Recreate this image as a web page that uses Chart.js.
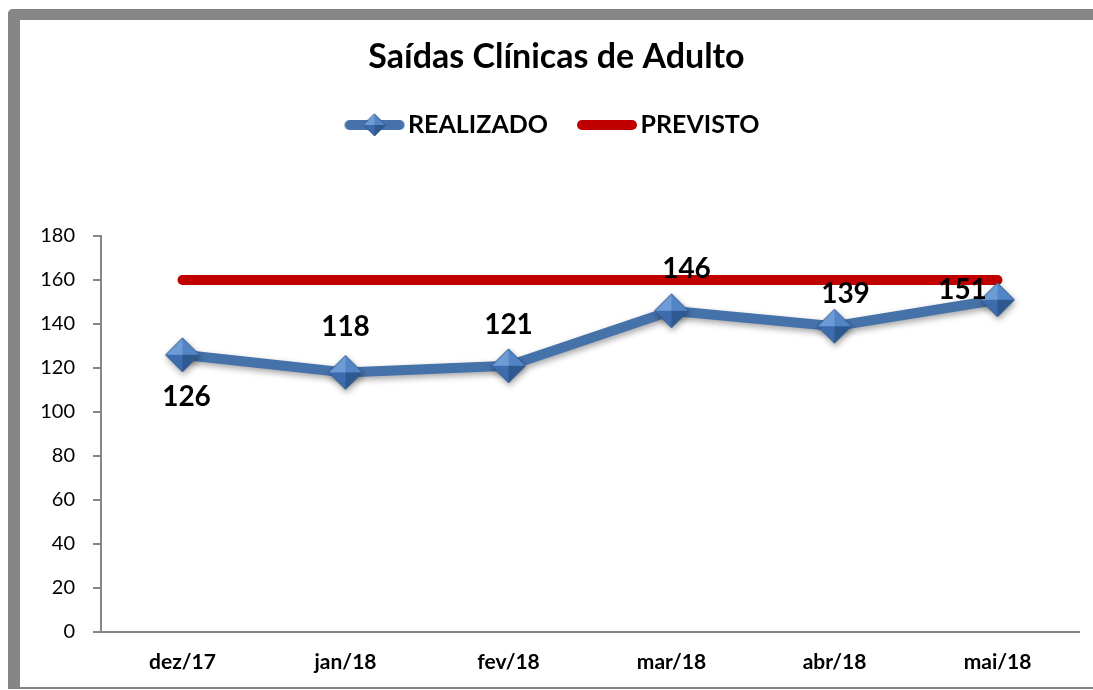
<!DOCTYPE html>
<html lang="pt">
<head>
<meta charset="utf-8">
<title>Saídas Clínicas de Adulto</title>
<script src="https://cdn.jsdelivr.net/npm/chart.js@4.4.1/dist/chart.umd.min.js"></script>
<style>
  html, body { margin: 0; padding: 0; background: #fff; overflow: hidden; }
  #wrap { position: relative; width: 1093px; height: 690px; overflow: hidden; }
  #chart { position: absolute; left: 0; top: 0; }
  /* grey frame like the spreadsheet picture */
  #frame {
    position: absolute; left: 8px; top: 9px; width: 1200px; height: 680px; box-sizing: border-box;
    border-left: 12px solid #868686; border-top: 11px solid #868686; border-bottom: 2px solid #868686;
    border-top-left-radius: 5px; pointer-events: none;
  }
</style>
</head>
<body>
<div id="wrap">
  <canvas id="chart" width="1113" height="690"></canvas>
  <div id="frame"></div>
</div>
<script>
// ---- data ----
const months = ['dez/17', 'jan/18', 'fev/18', 'mar/18', 'abr/18', 'mai/18'];
const realizado = [126, 118, 121, 146, 139, 151];
const previsto = [160, 160, 160, 160, 160, 160];
const yTicks = [0, 20, 40, 60, 80, 100, 120, 140, 160, 180];

// label nudges (px) for the REALIZADO values, as placed in the original
const labelOffsets = [[4, 42], [0, -45], [0, -41], [15, -42], [11, -32], [-35, -10]];

const colors = { blue: '#4672aa', red: '#c00000', axis: '#868686' };

Chart.defaults.font.family = "Lato, 'Open Sans', sans-serif";
Chart.defaults.color = '#000';

function drawDiamond(g, cx, cy, h) {
  const facets = [
    [[cx, cy - h], [cx - h, cy], '#6c9bd6'],
    [[cx, cy - h], [cx + h, cy], '#5185c6'],
    [[cx - h, cy], [cx, cy + h], '#3c6cad'],
    [[cx + h, cy], [cx, cy + h], '#2d5990'],
  ];
  facets.forEach(([a, b, c]) => {
    g.beginPath(); g.moveTo(a[0], a[1]); g.lineTo(b[0], b[1]); g.lineTo(cx, cy); g.closePath();
    g.fillStyle = c; g.fill();
  });
  g.beginPath();
  g.moveTo(cx, cy - h); g.lineTo(cx + h, cy); g.lineTo(cx, cy + h); g.lineTo(cx - h, cy); g.closePath();
  g.strokeStyle = '#2f5a8f'; g.lineWidth = 1; g.stroke();
}

function makeDiamond(size) {
  const c = document.createElement('canvas');
  c.width = c.height = size;
  drawDiamond(c.getContext('2d'), size / 2, size / 2, size / 2 - 1);
  return c;
}

function makeLegendIcon(color, withDiamond) {
  const c = document.createElement('canvas');
  c.width = 62; c.height = 24;
  const g = c.getContext('2d');
  g.strokeStyle = color; g.lineWidth = 10; g.lineCap = 'round';
  g.beginPath(); g.moveTo(6, 12); g.lineTo(56, 12); g.stroke();
  if (withDiamond) drawDiamond(g, 31, 12, 11);
  return c;
}

const diamond = makeDiamond(36);
const legendIcons = [makeLegendIcon(colors.blue, true), makeLegendIcon(colors.red, false)];

const lineShadow = {
  id: 'lineShadow',
  beforeDatasetDraw(chart, args) {
    if (args.index !== 0) return;
    const ctx = chart.ctx;
    ctx.save();
    ctx.shadowColor = 'rgba(0,0,0,0.35)';
    ctx.shadowBlur = 6;
    ctx.shadowOffsetX = 1;
    ctx.shadowOffsetY = 3;
  },
  afterDatasetDraw(chart, args) {
    if (args.index === 0) chart.ctx.restore();
  }
};

const pointLabels = {
  id: 'pointLabels',
  afterDatasetsDraw(chart) {
    const ctx = chart.ctx;
    const meta = chart.getDatasetMeta(0);
    ctx.save();
    ctx.font = "bold 28px Lato, 'Open Sans', sans-serif";
    ctx.fillStyle = '#000';
    ctx.textAlign = 'center';
    ctx.textBaseline = 'middle';
    meta.data.forEach((pt, i) => {
      const [dx, dy] = labelOffsets[i];
      ctx.fillText(String(realizado[i]), pt.x + dx, pt.y + dy);
    });
    ctx.restore();
  }
};

new Chart(document.getElementById('chart'), {
  type: 'line',
  data: {
    labels: months,
    datasets: [{
      label: 'REALIZADO',
      data: realizado,
      borderColor: colors.blue,
      backgroundColor: colors.blue,
      borderWidth: 10,
      tension: 0,
      pointStyle: diamond,
      pointRadius: 18,
      pointHoverRadius: 18,
    }, {
      label: 'PREVISTO',
      data: previsto,
      borderColor: colors.red,
      backgroundColor: colors.red,
      borderWidth: 10,
      borderCapStyle: 'round',
      pointRadius: 0,
      pointHoverRadius: 0,
    }]
  },
  options: {
    responsive: false,
    animation: false,
    layout: { padding: { left: 34, right: 34, top: 0, bottom: 0 } },
    plugins: {
      title: {
        display: true,
        text: 'Saídas Clínicas de Adulto',
        font: { size: 34, weight: 'bold', lineHeight: 1 },
        color: '#000',
        padding: { top: 40.5, bottom: 0 },
      },
      legend: {
        position: 'top',
        labels: {
          font: { size: 25, weight: 'bold' },
          color: '#000',
          usePointStyle: true,
          pointStyleWidth: 42,
          padding: 38,
          generateLabels(chart) {
            const items = Chart.defaults.plugins.legend.labels.generateLabels(chart);
            items.forEach((it, i) => { it.pointStyle = legendIcons[i]; it.rotation = 0; });
            return items;
          }
        }
      },
      // empty spacer between the legend and the plot
      subtitle: {
        display: true, text: '', weight: 500,
        font: { size: 1, lineHeight: 1 },
        padding: { top: 87.5, bottom: 0 },
      },
      tooltip: { enabled: false },
    },
    scales: {
      x: {
        offset: true,
        grid: { display: false, drawTicks: false },
        border: { display: true, color: colors.axis, width: 2 },
        ticks: { font: { size: 21, weight: 'bold' }, color: '#000', padding: 18 },
        afterFit(s) { s.height = 58; }
      },
      y: {
        min: yTicks[0],
        max: yTicks[yTicks.length - 1],
        ticks: { stepSize: yTicks[1] - yTicks[0], font: { size: 20 }, color: '#000', padding: 18 },
        grid: { drawOnChartArea: false, drawTicks: true, tickLength: 8, color: colors.axis, lineWidth: 2 },
        border: { color: colors.axis, width: 2 },
        afterFit(s) { s.width = 67; }
      }
    }
  },
  plugins: [lineShadow, pointLabels]
});
</script>
</body>
</html>
